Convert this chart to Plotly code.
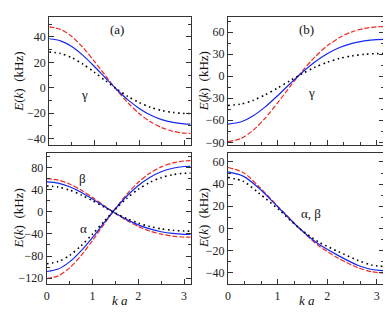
import plotly.graph_objects as go

W, H = 391, 312

# k*a sample positions
k = [0, 0.25, 0.5, 0.75, 1.0, 1.25, 1.5, 1.75, 2.0, 2.25, 2.5, 2.75, 3.0, 3.1416]
k_br = [0, 0.313, 0.626, 1.026, 1.426, 1.826, 2.226, 2.626, 2.9, 3.1416]

# panel (a), gamma band
a_g_red = [48.0, 46.0, 40.4, 31.7, 21.0, 9.5, -1.8, -11.9, -20.4, -26.9, -31.5, -34.4, -35.8, -36.0]
a_g_blue = [38.6, 37.0, 32.5, 25.5, 16.9, 7.7, -1.4, -9.6, -16.3, -21.5, -25.2, -27.4, -28.5, -28.7]
a_g_black = [28.2, 27.0, 23.7, 18.6, 12.3, 5.5, -1.0, -6.9, -11.7, -15.4, -18.0, -19.5, -20.3, -20.4]

# panel (b), gamma band
b_g_red = [-88.9, -85.0, -73.9, -57.0, -36.3, -14.2, 7.1, 26.0, 41.2, 52.6, 60.3, 64.9, 67.1, 67.4]
b_g_blue = [-65.2, -62.4, -54.2, -41.8, -26.6, -10.3, 5.4, 19.3, 30.5, 39.0, 44.7, 48.1, 49.8, 50.0]
b_g_black = [-39.8, -38.1, -33.1, -25.4, -16.1, -6.1, 3.5, 12.0, 18.9, 24.1, 27.6, 29.7, 30.7, 30.8]

# panel (a), alpha band
a_al_red = [-121.0, -116.0, -101.5, -79.3, -52.0, -22.6, 6.1, 31.9, 53.4, 69.8, 81.3, 88.4, 91.9, 92.4]
a_al_blue = [-108.0, -103.5, -90.6, -70.8, -46.4, -20.2, 5.5, 28.5, 47.6, 62.2, 72.4, 78.8, 81.9, 82.3]
a_al_black = [-94.0, -90.1, -78.8, -61.5, -40.3, -17.5, 4.7, 24.5, 40.8, 53.2, 61.8, 67.1, 69.6, 70.0]

# panel (a), beta band
a_be_red = [59.9, 57.4, 50.2, 39.3, 25.8, 11.2, -3.0, -15.9, -26.5, -34.7, -40.4, -44.0, -45.7, -46.0]
a_be_blue = [54.0, 51.8, 45.3, 35.4, 23.2, 10.1, -2.7, -14.2, -23.7, -31.0, -36.1, -39.2, -40.8, -41.0]
a_be_black = [46.8, 44.8, 39.2, 30.6, 20.1, 8.7, -2.4, -12.2, -20.4, -26.6, -30.9, -33.5, -34.8, -35.0]

# panel (b), alpha/beta band
b_ab_red = [55.0, 50.3, 37.6, 19.0, 0.6, -15.7, -27.0, -35.6, -39.2, -40.3]
b_ab_blue = [51.0, 47.0, 36.2, 18.4, 0.6, -14.2, -24.6, -33.5, -37.1, -38.2]
b_ab_black = [46.0, 42.4, 31.7, 16.9, 0.6, -12.2, -21.0, -29.0, -33.2, -34.4]

RED, BLUE, BLACK = "#f0281e", "#1428f0", "#000000"
STYLE = {
    "red": dict(color=RED, dash="5px,2px", width=1.2),
    "blue": dict(color=BLUE, dash="solid", width=1.2),
    "black": dict(color=BLACK, dash="1.6px,3.4px", width=1.6),
}

fig = go.Figure()


def px_x(a, b):
    return [a / W, b / W]


def px_y(top, bot):
    return [1 - bot / H, 1 - top / H]


panels = [
    # (axis id, domain x, domain y, yrange, ydtick, yminor, xminor, show x labels)
    ("", px_x(38.5, 181), px_y(9.5, 139), [-45, 55.5], 20, 10, 0.5, False),
    ("2", px_x(218.7, 375.7), px_y(9.5, 139), [-93.3, 80], 30, 15, 1 / 3, False),
    ("3", px_x(36, 181), px_y(147, 280.7), [-131, 107], 40, 20, 0.5, True),
    ("4", px_x(218.7, 375.7), px_y(147, 280.7), [-50.4, 68.4], 20, 10, 1 / 3, True),
]

series = [
    [(k, a_g_red, "red"), (k, a_g_blue, "blue"), (k, a_g_black, "black")],
    [(k, b_g_red, "red"), (k, b_g_blue, "blue"), (k, b_g_black, "black")],
    [(k, a_al_red, "red"), (k, a_al_blue, "blue"), (k, a_al_black, "black"),
     (k, a_be_red, "red"), (k, a_be_blue, "blue"), (k, a_be_black, "black")],
    [(k_br, b_ab_red, "red"), (k_br, b_ab_blue, "blue"), (k_br, b_ab_black, "black")],
]

tickfont = dict(family="Liberation Serif", size=12, color="#222")
layout = {}
for (sid, dx, dy, yr, ydt, ymn, xmn, showx), ser in zip(panels, series):
    for xs, vals, sty in ser:
        st = STYLE[sty]
        fig.add_trace(go.Scatter(
            x=xs, y=vals, mode="lines", xaxis="x" + sid, yaxis="y" + sid,
            line=dict(color=st["color"], dash=st["dash"], width=st["width"],
                      shape="spline", smoothing=0.8),
            showlegend=False, hoverinfo="skip"))
    layout["xaxis" + sid] = dict(
        domain=dx, range=[0, 3.1416], anchor="y" + sid, dtick=1, tick0=0,
        ticks="inside", ticklen=5, tickcolor="#333", showticklabels=showx,
        tickfont=tickfont, showgrid=False, zeroline=False, showline=True,
        linecolor="#333", linewidth=1, mirror=True,
        minor=dict(dtick=xmn, tick0=0, ticks="inside", ticklen=3, tickcolor="#333"))
    layout["yaxis" + sid] = dict(
        domain=dy, range=yr, anchor="x" + sid, dtick=ydt, tick0=0,
        ticks="inside", ticklen=5, tickcolor="#333", tickfont=tickfont,
        showgrid=False, zeroline=False, showline=True, linecolor="#333",
        linewidth=1, mirror="ticks",
        minor=dict(dtick=ymn, tick0=0, ticks="inside", ticklen=3, tickcolor="#333"))

fig.update_layout(**layout)

ann_font = dict(family="Liberation Serif", size=13, color="#111")
ytitle = "<i>E</i>(<i>k</i>)  (kHz)"
annotations = [
    dict(x=107 / W, y=1 - 22 / H, text="(a)"),
    dict(x=298 / W, y=1 - 22 / H, text="(b)"),
    dict(x=74 / W, y=1 - 88 / H, text="γ"),
    dict(x=303 / W, y=1 - 86 / H, text="γ"),
    dict(x=72 / W, y=1 - 173 / H, text="β"),
    dict(x=73 / W, y=1 - 224 / H, text="α"),
    dict(x=302 / W, y=1 - 209 / H, text="α, β"),
    dict(x=110 / W, y=1 - 297 / H, text="<i>k a</i>"),
    dict(x=298 / W, y=1 - 297 / H, text="<i>k a</i>"),
    dict(x=8 / W, y=1 - 75 / H, text=ytitle, textangle=-90),
    dict(x=194 / W, y=1 - 75 / H, text=ytitle, textangle=-90),
    dict(x=8 / W, y=1 - 214 / H, text=ytitle, textangle=-90),
    dict(x=194 / W, y=1 - 214 / H, text=ytitle, textangle=-90),
]
for a in annotations:
    a.update(xref="paper", yref="paper", showarrow=False, font=ann_font,
             xanchor="center", yanchor="middle")

fig.update_layout(width=W, height=H, margin=dict(l=0, r=0, t=0, b=0),
                  paper_bgcolor="white", plot_bgcolor="white",
                  annotations=annotations)

fig.write_html("out.html")
